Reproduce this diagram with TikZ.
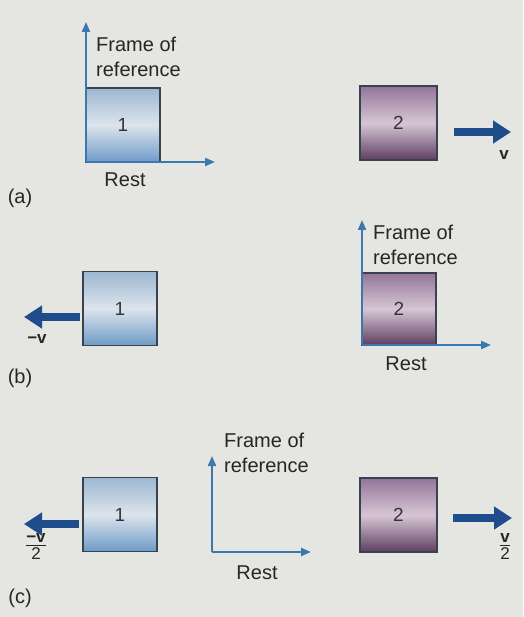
\documentclass[tikz,border=0pt]{standalone}
\usepackage{fontspec}
\setmainfont{Liberation Sans}
\usetikzlibrary{arrows.meta}
\definecolor{bg}{HTML}{E5E5E1}
\definecolor{axisblue}{HTML}{3A78AE}
\definecolor{arrowblue}{HTML}{1F4D8C}
\definecolor{boxline}{HTML}{39434F}
\definecolor{bluetop}{HTML}{9DB7D1}
\definecolor{bluemid}{HTML}{DCE4EC}
\definecolor{bluebot}{HTML}{6E9BC8}
\definecolor{purtop}{HTML}{94749A}
\definecolor{purmid}{HTML}{D6C6D4}
\definecolor{purbot}{HTML}{5F3E60}
\tikzset{
  x=1pt, y=-1pt,
  lbl/.style={font=\fontsize{20}{25}\selectfont, inner sep=0pt, text=black!85},
  numlbl/.style={font=\fontsize{19}{22}\selectfont, inner sep=0pt, text=black!80},
  vlbl/.style={font=\bfseries\fontsize{17}{19}\selectfont, inner sep=0pt, text=black!85},
  fraclbl/.style={font=\fontsize{17}{19}\selectfont, inner sep=0pt, text=black!85},
  bluebox/.style={draw=boxline, line width=1.3pt, minimum width=74pt, minimum height=74pt,
    top color=bluetop, bottom color=bluebot, middle color=bluemid, inner sep=0pt},
  purplebox/.style={draw=boxline, line width=1.3pt, minimum width=77pt, minimum height=74pt,
    top color=purtop, bottom color=purbot, middle color=purmid, inner sep=0pt},
  axis/.style={draw=axisblue, line width=2pt, -{Triangle[length=10pt,width=8pt]}},
  motion/.style={draw=arrowblue, line width=8pt, -{Triangle[length=18pt,width=22pt]}},
}
\begin{document}
\begin{tikzpicture}
\fill[bg] (0,0) rectangle (523,617);
\useasboundingbox (0,0) rectangle (523,617);

% ---------- (a) ----------
\node[bluebox] (boxAone) at (123,125) {};
\node[numlbl] at (boxAone) {1};
\coordinate (oA) at (86,162);
\coordinate (yA) at (86,22);
\coordinate (xA) at (215,162);
\draw[axis] (oA) -- (yA);
\draw[axis] (oA) -- (xA);
\node[lbl, anchor=west, align=left] (frA) at (96,57) {Frame of\\reference};
\node[lbl] (restA) at (125,180) {Rest};
\node[lbl] (capA) at (20,198) {(a)};
\node[purplebox] (boxAtwo) at (398.5,123) {};
\node[numlbl] at (boxAtwo) {2};
\coordinate (mAs) at (454,132);
\coordinate (mAe) at (511,132);
\draw[motion] (mAs) -- (mAe);
\node[vlbl] (vA) at (504,155) {v};

% ---------- (b) ----------
\node[bluebox] (boxBone) at (120,308.5) {};
\node[numlbl] at (boxBone) {1};
\coordinate (mBs) at (80,317);
\coordinate (mBe) at (24,317);
\draw[motion] (mBs) -- (mBe);
\node[vlbl] (vB) at (37,339) {−v};
\node[lbl] (capB) at (20,378) {(b)};
\node[purplebox, minimum width=74pt, minimum height=72pt] (boxBtwo) at (399,309) {};
\node[numlbl] at (boxBtwo) {2};
\coordinate (oB) at (362,345);
\coordinate (yB) at (362,220);
\coordinate (xB) at (491,345);
\draw[axis] (oB) -- (yB);
\draw[axis] (oB) -- (xB);
\node[lbl, anchor=west, align=left] (frB) at (373,245) {Frame of\\reference};
\node[lbl] (restB) at (406,364) {Rest};

% ---------- (c) ----------
\node[bluebox] (boxCone) at (120,514.5) {};
\node[numlbl] at (boxCone) {1};
\coordinate (mCs) at (79,524);
\coordinate (mCe) at (24,524);
\draw[motion] (mCs) -- (mCe);
\node[fraclbl] (vC) at (36,547) {\begin{tabular}{@{}c@{}}\textbf{−v}\\[-3pt]\hline\noalign{\vskip1pt}2\end{tabular}};
\node[lbl] (capC) at (20,598) {(c)};
\coordinate (oC) at (212,552);
\coordinate (yC) at (212,456);
\coordinate (xC) at (311,552);
\draw[axis] (oC) -- (yC);
\draw[axis] (oC) -- (xC);
\node[lbl, anchor=west, align=left] (frC) at (224,453) {Frame of\\reference};
\node[lbl] (restC) at (257,573) {Rest};
\node[purplebox] (boxCtwo) at (398.5,515) {};
\node[numlbl] at (boxCtwo) {2};
\coordinate (mDs) at (453,518);
\coordinate (mDe) at (512,518);
\draw[motion] (mDs) -- (mDe);
\node[fraclbl] (vD) at (505,547) {\begin{tabular}{@{}c@{}}\textbf{v}\\[-3pt]\hline\noalign{\vskip1pt}2\end{tabular}};
\end{tikzpicture}
\end{document}
